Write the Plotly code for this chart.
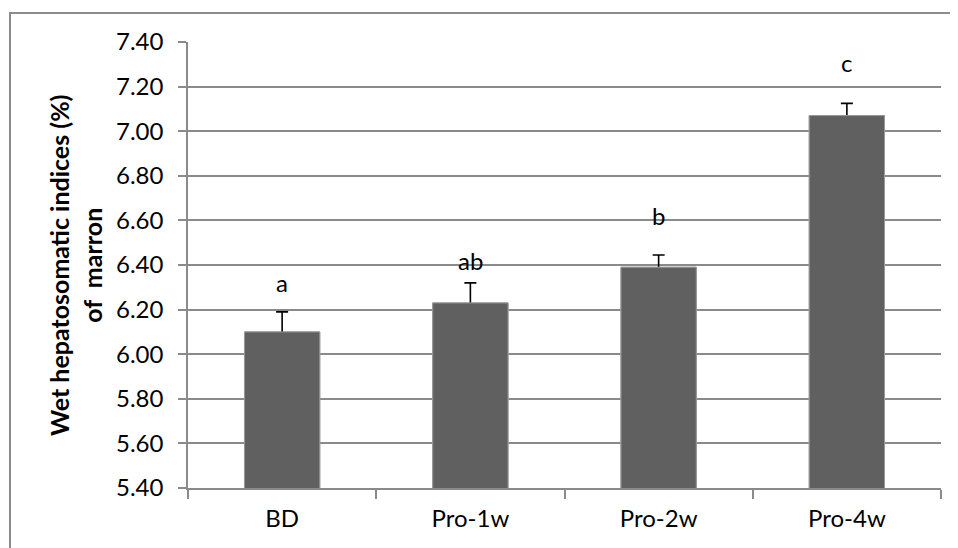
import plotly.graph_objects as go

categories = ["BD", "Pro-1w", "Pro-2w", "Pro-4w"]
values = [6.10, 6.23, 6.39, 7.07]
errors = [0.09, 0.09, 0.055, 0.055]
letters = ["a", "ab", "b", "c"]
letter_y = [6.32, 6.42, 6.62, 7.31]
y_ticks = [5.40, 5.60, 5.80, 6.00, 6.20, 6.40, 6.60, 6.80, 7.00, 7.20, 7.40]

FONT = "Lato, Carlito, Calibri, sans-serif"
GRID = "#8a8a8a"
BAR = dict(color="#606060", line=dict(color="#9a9a9a", width=1))

fig = go.Figure()
# bars carrying the error bars
fig.add_trace(go.Bar(
    x=categories, y=values, width=0.4, marker=BAR,
    error_y=dict(type="data", array=errors, color="black",
                 thickness=1.6, width=6),
))
# identical bars on top so only the upper half of each error bar shows
fig.add_trace(go.Bar(x=categories, y=values, width=0.4, marker=BAR,
                     hoverinfo="skip"))

for c, t, ly in zip(categories, letters, letter_y):
    fig.add_annotation(x=c, y=ly, text=t, showarrow=False,
                       font=dict(family=FONT, size=24, color="black"),
                       xanchor="center", yanchor="middle")

fig.add_annotation(xref="paper", yref="paper", x=-0.150, y=0.5,
                   text="<b>Wet hepatosomatic indices (%)<br>of  marron</b>",
                   textangle=-90, showarrow=False,
                   font=dict(family=FONT, size=25, color="black"),
                   xanchor="center", yanchor="middle")

# outer chart border (left and top visible)
fig.add_shape(type="rect", xref="paper", yref="paper",
              x0=-0.2364, x1=1.5, y0=-0.5, y1=1.065,
              line=dict(color="#8c8c8c", width=2), layer="below")

fig.update_layout(
    width=958, height=548,
    margin=dict(l=180, r=25, t=34, b=68),
    barmode="overlay",
    plot_bgcolor="white", paper_bgcolor="white",
    showlegend=False,
    font=dict(family=FONT, size=24, color="black"),
    xaxis=dict(showline=True, linecolor=GRID, linewidth=1.5,
               ticks="outside", tickson="boundaries", ticklen=9,
               tickcolor=GRID, tickwidth=1.5, showgrid=False,
               ticklabelstandoff=8,
               tickfont=dict(family=FONT, size=24)),
    yaxis=dict(range=[5.40, 7.40], tickvals=y_ticks,
               ticktext=[f"{v:.2f}" for v in y_ticks],
               showline=True, linecolor=GRID, linewidth=1.5,
               ticks="outside", ticklen=8, tickcolor=GRID, tickwidth=1.5,
               showgrid=True, gridcolor=GRID, gridwidth=1.5,
               ticklabelstandoff=10,
               zeroline=False, tickfont=dict(family=FONT, size=24)),
)

fig.write_html("out.html")
